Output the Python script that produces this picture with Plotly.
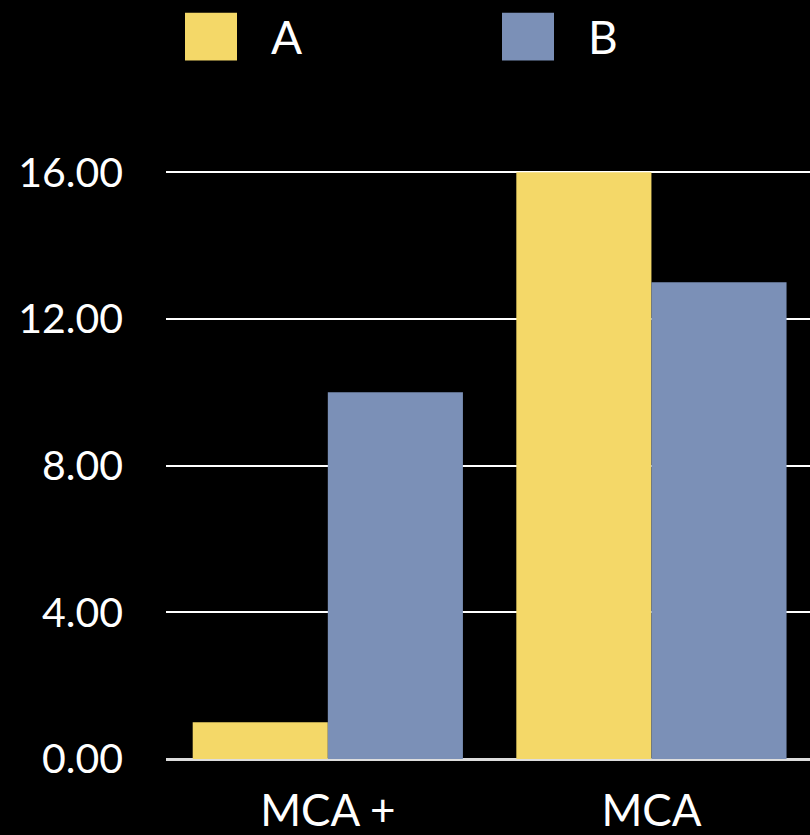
import plotly.graph_objects as go

# Data
categories = ["MCA +", "MCA"]
series_names = ["A", "B"]
values_a = [1, 16]
values_b = [10, 13]
y_ticks = [0, 4, 8, 12, 16]
y_tick_labels = ["0.00", "4.00", "8.00", "12.00", "16.00"]

colors = ["#F4D868", "#7B90B7"]
FONT = "Lato, 'Gill Sans', 'Open Sans', sans-serif"

W, H = 810, 835
ML, MR, MT, MB = 166, 0, 165, 73
PW, PH = W - ML - MR, H - MT - MB


def px_x(p):
    return (p - ML) / PW


def px_y(p):
    return (H - MB - p) / PH


fig = go.Figure()
for name, vals, col in zip(series_names, [values_a, values_b], colors):
    fig.add_trace(go.Bar(
        x=categories, y=vals, name=name,
        marker=dict(color=col, line=dict(width=0)),
        showlegend=False,
    ))

# Large legend swatches with labels along the top
shapes = []
annotations = []
swatch_left = [185, 502]
for name, col, left in zip(series_names, colors, swatch_left):
    shapes.append(dict(
        type="rect", xref="paper", yref="paper",
        x0=px_x(left), x1=px_x(left + 52),
        y0=px_y(60), y1=px_y(12),
        fillcolor=col, line=dict(width=0), layer="above",
    ))
    annotations.append(dict(
        text=name, xref="paper", yref="paper",
        x=px_x(left + 84), y=px_y(36),
        xanchor="left", yanchor="middle", showarrow=False,
        font=dict(family=FONT, size=46, color="white"),
    ))

fig.update_layout(
    width=W, height=H,
    margin=dict(l=ML, r=MR, t=MT, b=MB, pad=0),
    paper_bgcolor="black", plot_bgcolor="black",
    barmode="group", bargap=0.165, bargroupgap=0,
    font=dict(family=FONT, color="white", size=42),
    shapes=shapes, annotations=annotations,
)
fig.update_xaxes(
    range=[-0.5, 1.49], showgrid=False, zeroline=False,
    showline=False, ticks="", ticklabelstandoff=22,
    tickfont=dict(family=FONT, size=44, color="white"),
)
fig.update_yaxes(
    range=[0, 16.2], tickvals=y_ticks, ticktext=y_tick_labels,
    showgrid=True, gridcolor="white", gridwidth=2,
    zeroline=True, zerolinecolor="#dddddd", zerolinewidth=3,
    showline=False, ticks="", ticklabelstandoff=42,
    tickfont=dict(family=FONT, size=41, color="white"),
)

fig.write_html("out.html")
